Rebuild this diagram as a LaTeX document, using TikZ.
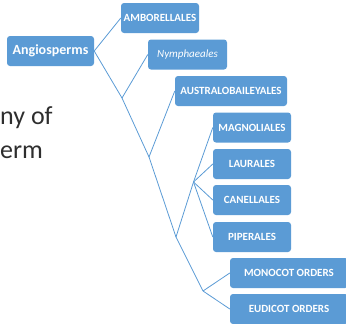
\documentclass[tikz,border=0pt]{standalone}
\usepackage{fontspec}
\setmainfont{Carlito}
\definecolor{accent}{HTML}{5B9BD5}
\begin{document}
\begin{tikzpicture}[x=1pt,y=-1pt,
  box/.style={fill=accent, rounded corners=3pt, text=white,
    font=\bfseries\fontsize{11}{13}\selectfont, inner sep=0pt,
    minimum height=30pt, align=center},
  link/.style={draw=accent, line width=0.8pt},
  slidetext/.style={anchor=base west, inner sep=0pt, text=black!82,
    font=\fontsize{26}{31}\selectfont}]
\useasboundingbox (0,0) rectangle (346,324);

% title text at the left edge
\node[slidetext] (t1) at (0,124) {ny of};
\node[slidetext] (t2) at (0,158) {erm};

% order boxes
\node[box, minimum width=87pt, font=\bfseries\fontsize{14}{16}\selectfont] (angio) at (50.5,51) {Angiosperms};
\node[box, minimum width=78pt] (ambo) at (160,18) {AMBORELLALES};
\node[box, minimum width=79pt, font=\itshape\fontsize{11}{13}\selectfont] (nymph) at (187.5,54.5) {Nymphaeales};
\node[box, minimum width=112pt] (austr) at (231,91) {AUSTRALOBAILEYALES};
\node[box, minimum width=78pt] (magn) at (252,127.5) {MAGNOLIALES};
\node[box, minimum width=78pt] (laur) at (252,164) {LAURALES};
\node[box, minimum width=78pt] (canel) at (252,200) {CANELLALES};
\node[box, minimum width=78pt] (piper) at (252,237) {PIPERALES};
\node[box, minimum width=118pt] (mono) at (289,273) {MONOCOT ORDERS};
\node[box, minimum width=118pt] (eudi) at (289,309) {EUDICOT ORDERS};

% branching points
\coordinate (j1) at (122,98);
\coordinate (j2) at (149,157);
\coordinate (j3) at (176,237);
\coordinate (j4) at (193.5,182);
\coordinate (j5) at (203,291);

% tree
\draw[link] (angio.east) -- (ambo.west);
\draw[link] (angio.east) -- (j1);
\draw[link] (j1) -- (nymph.west);
\draw[link] (j1) -- (j2);
\draw[link] (j2) -- (austr.west);
\draw[link] (j2) -- (j3);
\draw[link] (j3) -- (j4);
\draw[link] (j4) -- (magn.west);
\draw[link] (j4) -- (laur.west);
\draw[link] (j4) -- (canel.west);
\draw[link] (j4) -- (piper.west);
\draw[link] (j3) -- (j5);
\draw[link] (j5) -- (mono.west);
\draw[link] (j5) -- (eudi.west);
\end{tikzpicture}
\end{document}
